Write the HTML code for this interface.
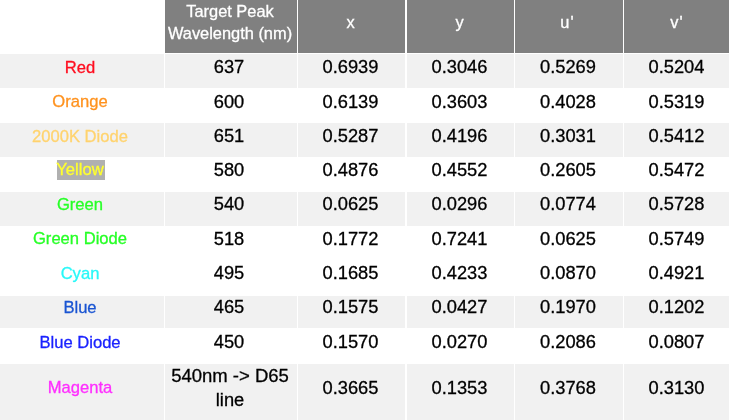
<!DOCTYPE html><html><head><meta charset="utf-8"><style>
html,body{margin:0;padding:0;width:729px;height:420px;overflow:hidden;background:#fff;position:relative;font-family:"Liberation Sans",sans-serif;}
.b{position:absolute}
.t{position:absolute;text-align:center;white-space:nowrap;color:#000;will-change:transform;-webkit-text-stroke:0.3px currentColor}
</style></head><body>
<div class="b" style="left:165px;top:0;width:132px;height:53px;background:#808080"></div>
<div class="b" style="left:298px;top:0;width:107px;height:53px;background:#808080"></div>
<div class="b" style="left:407px;top:0;width:107px;height:53px;background:#808080"></div>
<div class="b" style="left:515px;top:0;width:108px;height:53px;background:#808080"></div>
<div class="b" style="left:624px;top:0;width:105px;height:53px;background:#808080"></div>
<div class="b" style="left:0px;top:54px;width:164px;height:34px;background:#f1f1f1"></div>
<div class="b" style="left:165px;top:54px;width:132px;height:34px;background:#f1f1f1"></div>
<div class="b" style="left:298px;top:54px;width:107px;height:34px;background:#f1f1f1"></div>
<div class="b" style="left:407px;top:54px;width:107px;height:34px;background:#f1f1f1"></div>
<div class="b" style="left:515px;top:54px;width:108px;height:34px;background:#f1f1f1"></div>
<div class="b" style="left:624px;top:54px;width:105px;height:34px;background:#f1f1f1"></div>
<div class="b" style="left:0px;top:123px;width:164px;height:34px;background:#f1f1f1"></div>
<div class="b" style="left:165px;top:123px;width:132px;height:34px;background:#f1f1f1"></div>
<div class="b" style="left:298px;top:123px;width:107px;height:34px;background:#f1f1f1"></div>
<div class="b" style="left:407px;top:123px;width:107px;height:34px;background:#f1f1f1"></div>
<div class="b" style="left:515px;top:123px;width:108px;height:34px;background:#f1f1f1"></div>
<div class="b" style="left:624px;top:123px;width:105px;height:34px;background:#f1f1f1"></div>
<div class="b" style="left:0px;top:192px;width:164px;height:34px;background:#f1f1f1"></div>
<div class="b" style="left:165px;top:192px;width:132px;height:34px;background:#f1f1f1"></div>
<div class="b" style="left:298px;top:192px;width:107px;height:34px;background:#f1f1f1"></div>
<div class="b" style="left:407px;top:192px;width:107px;height:34px;background:#f1f1f1"></div>
<div class="b" style="left:515px;top:192px;width:108px;height:34px;background:#f1f1f1"></div>
<div class="b" style="left:624px;top:192px;width:105px;height:34px;background:#f1f1f1"></div>
<div class="b" style="left:0px;top:296px;width:164px;height:32px;background:#f1f1f1"></div>
<div class="b" style="left:165px;top:296px;width:132px;height:32px;background:#f1f1f1"></div>
<div class="b" style="left:298px;top:296px;width:107px;height:32px;background:#f1f1f1"></div>
<div class="b" style="left:407px;top:296px;width:107px;height:32px;background:#f1f1f1"></div>
<div class="b" style="left:515px;top:296px;width:108px;height:32px;background:#f1f1f1"></div>
<div class="b" style="left:624px;top:296px;width:105px;height:32px;background:#f1f1f1"></div>
<div class="b" style="left:0px;top:364px;width:164px;height:56px;background:#f1f1f1"></div>
<div class="b" style="left:165px;top:364px;width:132px;height:56px;background:#f1f1f1"></div>
<div class="b" style="left:298px;top:364px;width:107px;height:56px;background:#f1f1f1"></div>
<div class="b" style="left:407px;top:364px;width:107px;height:56px;background:#f1f1f1"></div>
<div class="b" style="left:515px;top:364px;width:108px;height:56px;background:#f1f1f1"></div>
<div class="b" style="left:624px;top:364px;width:105px;height:56px;background:#f1f1f1"></div>
<div class="t" style="left:164px;width:132px;top:1.42px;font-size:16.4px;line-height:20px;color:#fff;">Target Peak</div>
<div class="t" style="left:164px;width:132px;top:23.32px;font-size:16.4px;line-height:20px;color:#fff;">Wavelength (nm)</div>
<div class="t" style="left:297px;width:107px;top:12.32px;font-size:16.4px;line-height:20px;color:#fff;">x</div>
<div class="t" style="left:406px;width:107px;top:12.32px;font-size:16.4px;line-height:20px;color:#fff;">y</div>
<div class="t" style="left:513.4px;width:108px;top:12.32px;font-size:16.4px;line-height:20px;color:#fff;">u<span style='margin-left:1px'>'</span></div>
<div class="t" style="left:624px;width:105px;top:12.32px;font-size:16.4px;line-height:20px;color:#fff;">v<span style='margin-left:1px'>'</span></div>
<div class="t" style="left:-0.6px;width:162px;top:58.05px;font-size:16.6px;line-height:20px;color:#ff0d1f;">Red</div>
<div class="t" style="left:163.2px;width:132px;top:56.16px;font-size:18.3px;line-height:22px;color:#000;">637</div>
<div class="t" style="left:297px;width:107px;top:56.16px;font-size:18.3px;line-height:22px;color:#000;">0.6939</div>
<div class="t" style="left:406px;width:107px;top:56.16px;font-size:18.3px;line-height:22px;color:#000;">0.3046</div>
<div class="t" style="left:514px;width:108px;top:56.16px;font-size:18.3px;line-height:22px;color:#000;">0.5269</div>
<div class="t" style="left:624px;width:105px;top:56.16px;font-size:18.3px;line-height:22px;color:#000;">0.5204</div>
<div class="t" style="left:-0.6px;width:162px;top:92.05px;font-size:16.6px;line-height:20px;color:#ff921e;">Orange</div>
<div class="t" style="left:163.2px;width:132px;top:91.16px;font-size:18.3px;line-height:22px;color:#000;">600</div>
<div class="t" style="left:297px;width:107px;top:91.16px;font-size:18.3px;line-height:22px;color:#000;">0.6139</div>
<div class="t" style="left:406px;width:107px;top:91.16px;font-size:18.3px;line-height:22px;color:#000;">0.3603</div>
<div class="t" style="left:514px;width:108px;top:91.16px;font-size:18.3px;line-height:22px;color:#000;">0.4028</div>
<div class="t" style="left:624px;width:105px;top:91.16px;font-size:18.3px;line-height:22px;color:#000;">0.5319</div>
<div class="t" style="left:-0.6px;width:162px;top:126.65px;font-size:16.6px;line-height:20px;color:#ffd36e;">2000K Diode</div>
<div class="t" style="left:163.2px;width:132px;top:125.16px;font-size:18.3px;line-height:22px;color:#000;">651</div>
<div class="t" style="left:297px;width:107px;top:125.16px;font-size:18.3px;line-height:22px;color:#000;">0.5287</div>
<div class="t" style="left:406px;width:107px;top:125.16px;font-size:18.3px;line-height:22px;color:#000;">0.4196</div>
<div class="t" style="left:514px;width:108px;top:125.16px;font-size:18.3px;line-height:22px;color:#000;">0.3031</div>
<div class="t" style="left:624px;width:105px;top:125.16px;font-size:18.3px;line-height:22px;color:#000;">0.5412</div>
<div class="b" style="left:57px;top:160px;width:48px;height:20px;background:#b0b0b0"></div>
<div class="t" style="left:-0.6px;width:162px;top:160.35px;font-size:16.6px;line-height:20px;color:#ffff2e;">Yellow</div>
<div class="t" style="left:163.2px;width:132px;top:159.16px;font-size:18.3px;line-height:22px;color:#000;">580</div>
<div class="t" style="left:297px;width:107px;top:159.16px;font-size:18.3px;line-height:22px;color:#000;">0.4876</div>
<div class="t" style="left:406px;width:107px;top:159.16px;font-size:18.3px;line-height:22px;color:#000;">0.4552</div>
<div class="t" style="left:514px;width:108px;top:159.16px;font-size:18.3px;line-height:22px;color:#000;">0.2605</div>
<div class="t" style="left:624px;width:105px;top:159.16px;font-size:18.3px;line-height:22px;color:#000;">0.5472</div>
<div class="t" style="left:-0.6px;width:162px;top:194.85px;font-size:16.6px;line-height:20px;color:#26ff26;">Green</div>
<div class="t" style="left:163.2px;width:132px;top:193.16px;font-size:18.3px;line-height:22px;color:#000;">540</div>
<div class="t" style="left:297px;width:107px;top:193.16px;font-size:18.3px;line-height:22px;color:#000;">0.0625</div>
<div class="t" style="left:406px;width:107px;top:193.16px;font-size:18.3px;line-height:22px;color:#000;">0.0296</div>
<div class="t" style="left:514px;width:108px;top:193.16px;font-size:18.3px;line-height:22px;color:#000;">0.0774</div>
<div class="t" style="left:624px;width:105px;top:193.16px;font-size:18.3px;line-height:22px;color:#000;">0.5728</div>
<div class="t" style="left:-0.6px;width:162px;top:228.95px;font-size:16.6px;line-height:20px;color:#26ff26;">Green Diode</div>
<div class="t" style="left:163.2px;width:132px;top:228.16px;font-size:18.3px;line-height:22px;color:#000;">518</div>
<div class="t" style="left:297px;width:107px;top:228.16px;font-size:18.3px;line-height:22px;color:#000;">0.1772</div>
<div class="t" style="left:406px;width:107px;top:228.16px;font-size:18.3px;line-height:22px;color:#000;">0.7241</div>
<div class="t" style="left:514px;width:108px;top:228.16px;font-size:18.3px;line-height:22px;color:#000;">0.0625</div>
<div class="t" style="left:624px;width:105px;top:228.16px;font-size:18.3px;line-height:22px;color:#000;">0.5749</div>
<div class="t" style="left:-0.6px;width:162px;top:264.05px;font-size:16.6px;line-height:20px;color:#28f8f8;">Cyan</div>
<div class="t" style="left:163.2px;width:132px;top:262.16px;font-size:18.3px;line-height:22px;color:#000;">495</div>
<div class="t" style="left:297px;width:107px;top:262.16px;font-size:18.3px;line-height:22px;color:#000;">0.1685</div>
<div class="t" style="left:406px;width:107px;top:262.16px;font-size:18.3px;line-height:22px;color:#000;">0.4233</div>
<div class="t" style="left:514px;width:108px;top:262.16px;font-size:18.3px;line-height:22px;color:#000;">0.0870</div>
<div class="t" style="left:624px;width:105px;top:262.16px;font-size:18.3px;line-height:22px;color:#000;">0.4921</div>
<div class="t" style="left:-0.6px;width:162px;top:298.05px;font-size:16.6px;line-height:20px;color:#1a55d2;">Blue</div>
<div class="t" style="left:163.2px;width:132px;top:296.16px;font-size:18.3px;line-height:22px;color:#000;">465</div>
<div class="t" style="left:297px;width:107px;top:296.16px;font-size:18.3px;line-height:22px;color:#000;">0.1575</div>
<div class="t" style="left:406px;width:107px;top:296.16px;font-size:18.3px;line-height:22px;color:#000;">0.0427</div>
<div class="t" style="left:514px;width:108px;top:296.16px;font-size:18.3px;line-height:22px;color:#000;">0.1970</div>
<div class="t" style="left:624px;width:105px;top:296.16px;font-size:18.3px;line-height:22px;color:#000;">0.1202</div>
<div class="t" style="left:-0.6px;width:162px;top:333.05px;font-size:16.6px;line-height:20px;color:#1a22ff;">Blue Diode</div>
<div class="t" style="left:163.2px;width:132px;top:331.16px;font-size:18.3px;line-height:22px;color:#000;">450</div>
<div class="t" style="left:297px;width:107px;top:331.16px;font-size:18.3px;line-height:22px;color:#000;">0.1570</div>
<div class="t" style="left:406px;width:107px;top:331.16px;font-size:18.3px;line-height:22px;color:#000;">0.0270</div>
<div class="t" style="left:514px;width:108px;top:331.16px;font-size:18.3px;line-height:22px;color:#000;">0.2086</div>
<div class="t" style="left:624px;width:105px;top:331.16px;font-size:18.3px;line-height:22px;color:#000;">0.0807</div>
<div class="t" style="left:-0.6px;width:162px;top:378.25px;font-size:16.6px;line-height:20px;color:#ff2eff;">Magenta</div>
<div class="t" style="left:163.7px;width:132px;top:364.59px;font-size:18.5px;line-height:22px;color:#000;">540nm -&gt; D65</div>
<div class="t" style="left:164px;width:132px;top:388.96px;font-size:18.3px;line-height:22px;color:#000;">line</div>
<div class="t" style="left:297px;width:107px;top:377.16px;font-size:18.3px;line-height:22px;color:#000;">0.3665</div>
<div class="t" style="left:406px;width:107px;top:377.16px;font-size:18.3px;line-height:22px;color:#000;">0.1353</div>
<div class="t" style="left:514px;width:108px;top:377.16px;font-size:18.3px;line-height:22px;color:#000;">0.3768</div>
<div class="t" style="left:624px;width:105px;top:377.16px;font-size:18.3px;line-height:22px;color:#000;">0.3130</div>
</body></html>
